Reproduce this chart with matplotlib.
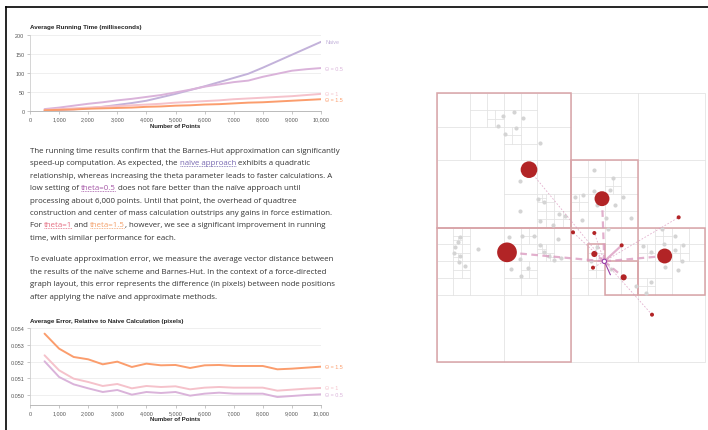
import matplotlib
matplotlib.use('Agg')
import matplotlib.pyplot as plt
from matplotlib.lines import Line2D
from matplotlib.patches import Circle, Rectangle
from matplotlib.font_manager import FontProperties
from matplotlib.ticker import FuncFormatter

W, H = 708, 431

# ---- data: running time (ms) ----
n_points = [500, 1000, 1500, 2000, 2500, 3000, 3500, 4000, 4500, 5000,
            5500, 6000, 6500, 7000, 7500, 8000, 8500, 9000, 9500, 10000]
time_naive = [1, 2.5, 4.5, 7, 11, 16, 21, 27, 36, 45,
              55, 65, 76, 87, 98, 114, 131, 148, 165, 182]
time_t05 = [5, 9, 14, 19, 23, 28, 32, 37, 42, 49,
            56, 64, 70, 76, 80, 90, 98, 106, 110, 113]
time_t1 = [3, 5, 7, 9, 11, 13, 15, 17, 19, 22,
           24, 26, 28, 31, 33, 35, 37, 39, 42, 45]
time_t15 = [2, 3, 4, 6, 7, 8, 9, 11, 12, 14,
            15, 17, 18, 20, 22, 23, 25, 27, 29, 31]

# ---- data: average error (pixels) ----
err_t05 = [0.05202, 0.05108, 0.05064, 0.05040, 0.05018, 0.05030, 0.05002, 0.05018, 0.05012, 0.05018,
           0.04996, 0.05008, 0.05014, 0.05008, 0.05008, 0.05008, 0.04988, 0.04994, 0.05000, 0.05004]
err_t1 = [0.05238, 0.05148, 0.05098, 0.05078, 0.05054, 0.05066, 0.05040, 0.05054, 0.05048, 0.05052,
          0.05034, 0.05044, 0.05048, 0.05044, 0.05044, 0.05044, 0.05026, 0.05032, 0.05038, 0.05042]
err_t15 = [0.05368, 0.05278, 0.05228, 0.05214, 0.05184, 0.05200, 0.05168, 0.05188, 0.05178, 0.05180,
           0.05162, 0.05178, 0.05180, 0.05174, 0.05174, 0.05174, 0.05154, 0.05158, 0.05164, 0.05170]

time_labels = ['Naive', 'Θ = 0.5', 'Θ = 1', 'Θ = 1.5']
err_labels = ['Θ = 0.5', 'Θ = 1', 'Θ = 1.5']

c_naive = '#c3b2da'
c_t05 = '#dab3da'
c_t1 = '#f5c2cb'
c_t15 = '#fb9d6d'

# ---- data: quadtree diagram (screen coords of the diagram, 20..826) ----
gray_x = [220, 252, 278, 204, 257, 226, 329, 271, 323, 342, 271, 387, 405, 331, 368,
          493, 548, 541, 493, 436, 458, 580, 555, 502, 455, 527, 602,
          91, 83, 74, 73, 89, 87, 105, 145, 237, 277, 311, 329, 384, 341, 356, 372, 392, 270, 243, 293, 274,
          696, 734, 758, 639, 702, 736, 663, 757, 706, 743, 662, 648,
          619, 543, 502, 484, 533]
gray_y = [97, 85, 103, 125, 131, 149, 176, 290, 344, 353, 382, 389, 396, 411, 422,
          257, 281, 318, 322, 338, 332, 338, 364, 362, 408, 403, 401,
          458, 475, 489, 508, 516, 533, 545, 494, 460, 457, 455, 484, 465, 505, 517, 527, 523, 525, 556, 551, 575,
          436, 457, 484, 485, 480, 497, 503, 530, 549, 558, 593, 627,
          606, 554, 490, 530, 436]
# approximated cells: centre of mass and point count
mass_x = [297, 231, 516, 704, 581, 493]
mass_y = [257, 505, 344, 516, 580, 510]
mass_n = [15, 21, 12, 12, 2, 2]
# cells (in 1/16 units) drawn as highlighted boxes
box_x0 = [0, 0, 8, 12, 10, 9]
box_y0 = [0, 8, 4, 8, 10, 9]
box_size = [8, 8, 4, 4, 2, 1]
# individual points computed exactly
dot_x = [429, 493, 575, 489, 746, 666]
dot_y = [445, 447, 484, 551, 400, 692]
node_x, node_y = 523, 532
force_x, force_y = 541, 572

QX0, QY0, QS = 20, 28, 806

fig = plt.figure(figsize=(W / 100, H / 100), dpi=100)
fig.patch.set_facecolor('white')
renderer = fig.canvas.get_renderer()


def fx(px):
    return px / W


def fy(py):
    return 1 - py / H


def px_axes(left, top, right, bottom):
    return fig.add_axes([left / W, 1 - bottom / H, (right - left) / W, (bottom - top) / H])


chart_font = 'Liberation Sans'


def style_chart(ax):
    for s in ['top', 'right']:
        ax.spines[s].set_visible(False)
    ax.spines['left'].set_color('#cfcfcf')
    ax.spines['bottom'].set_color('#b0b0b0')
    ax.spines['left'].set_linewidth(0.6)
    ax.spines['bottom'].set_linewidth(0.6)
    ax.tick_params(length=2.5, width=0.5, color='#b0b0b0', labelsize=3.9,
                   labelcolor='#555555', pad=1.5)
    for lab in ax.get_xticklabels() + ax.get_yticklabels():
        lab.set_family(chart_font)
    ax.grid(axis='y', color='#ececec', lw=0.6)
    ax.set_axisbelow(True)
    ax.set_xlim(0, 10000)
    ax.set_xticks(range(0, 10001, 1000))
    ax.xaxis.set_major_formatter(FuncFormatter(lambda v, p: f'{int(v):,}'))
    ax.set_facecolor('none')


# ---- chart 1: running time ----
ax1 = px_axes(30, 36, 321, 112)
for vals, col in zip([time_naive, time_t05, time_t1, time_t15], [c_naive, c_t05, c_t1, c_t15]):
    ax1.plot(n_points, vals, color=col, lw=1.4, solid_capstyle='round')
for vals, col, lab in zip([time_naive, time_t05, time_t1, time_t15], [c_naive, c_t05, c_t1, c_t15], time_labels):
    ax1.annotate(lab, (n_points[-1], vals[-1]), xytext=(3, 0), textcoords='offset points',
                 va='center', ha='left', fontsize=3.9, color=col, family=chart_font,
                 annotation_clip=False)
ax1.set_ylim(0, 200)
ax1.set_yticks([0, 50, 100, 150, 200])
style_chart(ax1)
fig.text(fx(30), fy(28), 'Average Running Time (milliseconds)', fontsize=4.5,
         weight='bold', family=chart_font, va='center', ha='left', color='#222222')
fig.text(fx(175.5), fy(127), 'Number of Points', fontsize=4.3, weight='bold',
         family=chart_font, va='center', ha='center', color='#222222')

# ---- chart 2: error ----
ax2 = px_axes(30, 329.3, 321, 406)
for vals, col in zip([err_t05, err_t1, err_t15], [c_t05, c_t1, c_t15]):
    ax2.plot(n_points, vals, color=col, lw=1.4, solid_capstyle='round')
for vals, col, lab in zip([err_t05, err_t1, err_t15], [c_t05, c_t1, c_t15], err_labels):
    ax2.annotate(lab, (n_points[-1], vals[-1]), xytext=(3, 0), textcoords='offset points',
                 va='center', ha='left', fontsize=3.9, color=col, family=chart_font,
                 annotation_clip=False)
ax2.set_ylim(0.0494, 0.054)
ax2.set_yticks([0.050, 0.051, 0.052, 0.053, 0.054])
ax2.yaxis.set_major_formatter(FuncFormatter(lambda v, p: f'{v:.3f}'))
style_chart(ax2)
fig.text(fx(30), fy(322), 'Average Error, Relative to Naive Calculation (pixels)', fontsize=4.5,
         weight='bold', family=chart_font, va='center', ha='left', color='#222222')
fig.text(fx(175.5), fy(419.5), 'Number of Points', fontsize=4.3, weight='bold',
         family=chart_font, va='center', ha='center', color='#222222')

# ---- paragraphs ----
body = '#333333'
link_cols = {'naive': '#7767b0', 't05': '#a456a6', 't1': '#e46c80', 't15': '#f39f68'}
para1 = [
    [('The running time results confirm that the Barnes-Hut approximation can significantly', None)],
    [('speed-up computation. As expected, the ', None), ('naïve approach', 'naive'), (' exhibits a quadratic', None)],
    [('relationship, whereas increasing the theta parameter leads to faster calculations. A', None)],
    [('low setting of ', None), ('theta=0.5', 't05'), (' does not fare better than the naïve approach until', None)],
    [('processing about 6,000 points. Until that point, the overhead of quadtree', None)],
    [('construction and center of mass calculation outstrips any gains in force estimation.', None)],
    [('For ', None), ('theta=1', 't1'), (' and ', None), ('theta=1.5', 't15'),
     (', however, we see a significant improvement in running', None)],
    [('time, with similar performance for each.', None)],
]
para2 = [
    [('To evaluate approximation error, we measure the average vector distance between', None)],
    [('the results of the naïve scheme and Barnes-Hut. In the context of a force-directed', None)],
    [('graph layout, this error represents the difference (in pixels) between node positions', None)],
    [('after applying the naïve and approximate methods.', None)],
]

body_font = 'Open Sans'
probe = FontProperties(family=body_font, size=10)
w10 = renderer.get_text_width_height_descent(para1[0][0][0], probe, ismath=False)[0]
body_size = 10 * 313 / w10
prop = FontProperties(family=body_font, size=body_size)


def text_w(s):
    return renderer.get_text_width_height_descent(s + 'x', prop, ismath=False)[0] - \
        renderer.get_text_width_height_descent('x', prop, ismath=False)[0]


def draw_paragraph(lines, y_first, step):
    for i, segs in enumerate(lines):
        base = y_first + i * step + 3
        full = ''
        for txt, key in segs:
            x0 = 30 + (text_w(full) if full else 0)
            col = link_cols[key] if key else body
            fig.text(fx(x0), fy(base), txt, fontproperties=prop, color=col,
                     va='baseline', ha='left')
            if key:
                x1 = x0 + text_w(txt)
                fig.add_artist(Line2D([fx(x0), fx(x1)], [fy(base + 2), fy(base + 2)],
                                      transform=fig.transFigure, color=col, lw=0.6,
                                      linestyle=(0, (1, 1))))
            full += txt


draw_paragraph(para1, 150, 12.4)
draw_paragraph(para2, 257.7, 12.8)

# ---- quadtree diagram ----
ax3 = px_axes(430 + QX0 / 3, 85 + QY0 / 3, 430 + (QX0 + QS) / 3, 85 + (QY0 + QS) / 3)
ax3.set_xlim(QX0, QX0 + QS)
ax3.set_ylim(QY0 + QS, QY0)
ax3.axis('off')

pts_x = gray_x + dot_x + [node_x]
pts_y = gray_y + dot_y + [node_y]
grid_col = '#e4e4e4'


def subdivide(x0, y0, s, idx, depth):
    if len(idx) <= 1 or depth > 7:
        return
    h = s / 2
    ax3.plot([x0 + h, x0 + h], [y0, y0 + s], color=grid_col, lw=0.6, zorder=1, clip_on=False)
    ax3.plot([x0, x0 + s], [y0 + h, y0 + h], color=grid_col, lw=0.6, zorder=1, clip_on=False)
    for qx in (0, 1):
        for qy in (0, 1):
            cx, cy = x0 + qx * h, y0 + qy * h
            sub = [i for i in idx if cx <= pts_x[i] < cx + h and cy <= pts_y[i] < cy + h]
            subdivide(cx, cy, h, sub, depth + 1)


ax3.add_patch(Rectangle((QX0, QY0), QS, QS, fill=False, ec=grid_col, lw=0.6, zorder=1,
                        clip_on=False))
subdivide(QX0, QY0, QS, list(range(len(pts_x))), 0)

unit = QS / 16
for bx, by, bs in zip(box_x0, box_y0, box_size):
    ax3.add_patch(Rectangle((QX0 + bx * unit, QY0 + by * unit), bs * unit, bs * unit,
                            fill=False, ec='#d9a4a8', lw=1.1, zorder=2, clip_on=False))

ax3.scatter(gray_x, gray_y, s=9, color='#d4d4d4', lw=0, zorder=3)

# interaction lines
line_col = '#d996bd'
thick = [False, True, True, True, True, True]
for mx, my, tk in zip(mass_x, mass_y, thick):
    ax3.plot([node_x, mx], [node_y, my], color=line_col, lw=1.6 if tk else 0.6,
             ls=(0, (3, 2)) if tk else (0, (2, 2)), alpha=0.75, zorder=4)
dot_thick = [False, False, True, False, False, False]
for dx, dy, tk in zip(dot_x, dot_y, dot_thick):
    ax3.plot([node_x, dx], [node_y, dy], color=line_col, lw=1.6 if tk else 0.6,
             ls='-' if tk else (0, (2, 2)), alpha=0.75, zorder=4)

for mx, my, mn in zip(mass_x, mass_y, mass_n):
    ax3.add_patch(Circle((mx, my), 6.45 * mn ** 0.5, color='#b22426', lw=0, zorder=5))
for dx, dy in zip(dot_x, dot_y):
    ax3.add_patch(Circle((dx, dy), 6.0, color='#b22426', lw=0, zorder=5))

ax3.plot([node_x, force_x], [node_y, force_y], color='#9a3fa8', lw=0.8, zorder=6)
ax3.add_patch(Circle((node_x, node_y), 6.5, fc='white', ec='#9a3fa8', lw=0.8, zorder=7))

# ---- page frame ----
fig.add_artist(Line2D([fx(6), fx(6)], [fy(8), fy(431)], transform=fig.transFigure,
                      color='black', lw=1.2))
fig.add_artist(Line2D([fx(6), fx(708)], [fy(8), fy(8)], transform=fig.transFigure,
                      color='black', lw=1.2))

fig.savefig('out.png', dpi=100, facecolor='white')
